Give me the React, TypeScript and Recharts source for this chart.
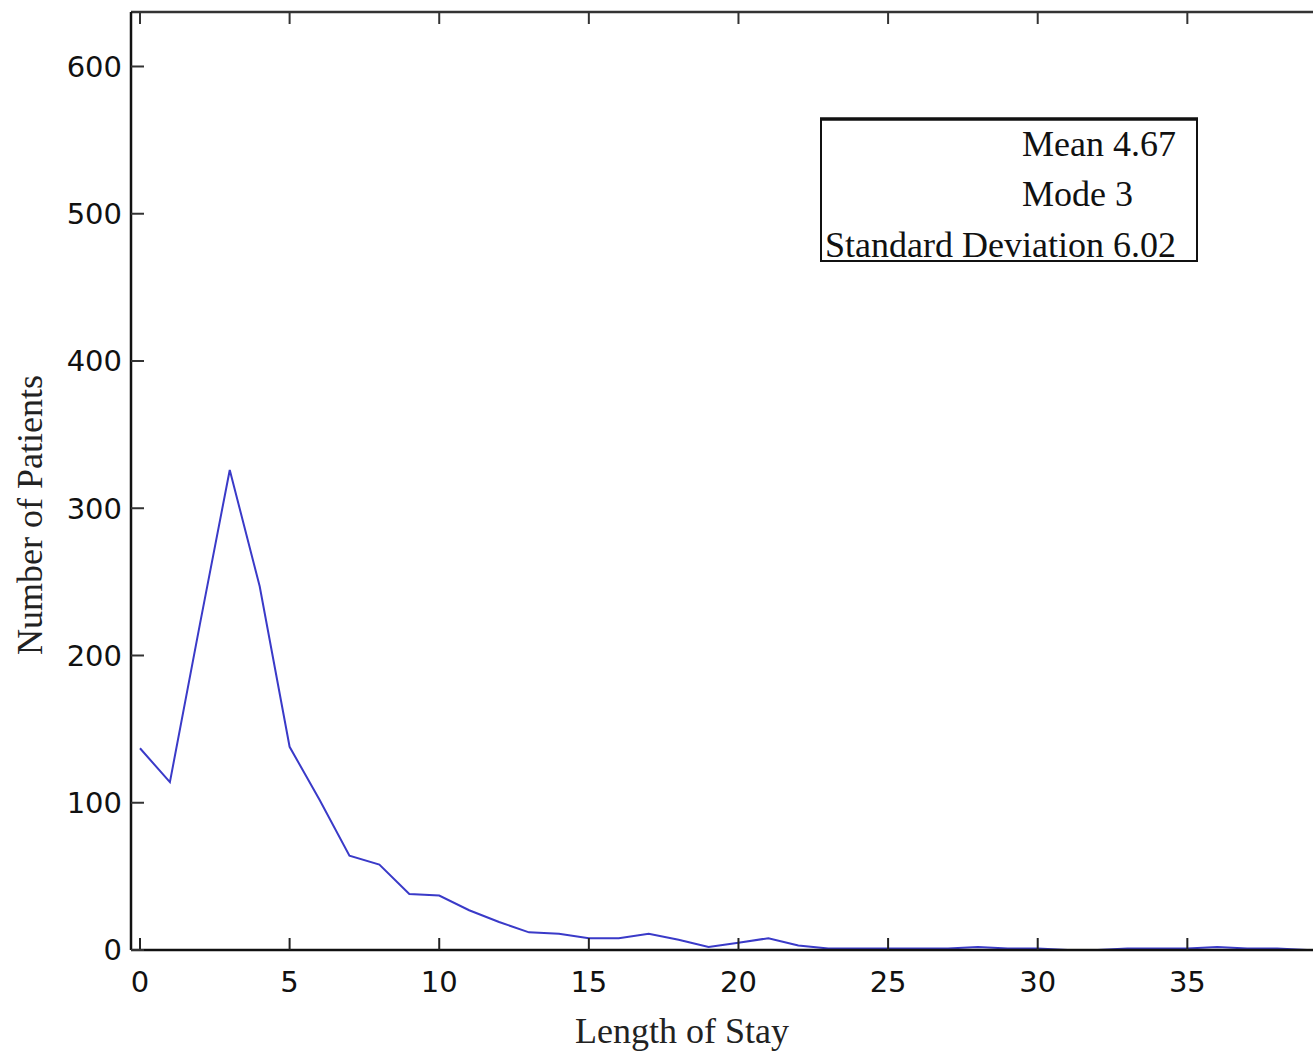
import React from 'react';
import { LineChart, Line, XAxis, YAxis } from 'recharts';

// length of stay (days) and number of patients
const days = [
  0, 1, 2, 3, 4, 5, 6, 7, 8, 9, 10, 11, 12, 13, 14, 15, 16, 17, 18, 19, 20,
  21, 22, 23, 24, 25, 26, 27, 28, 29, 30, 31, 32, 33, 34, 35, 36, 37, 38, 39, 40,
];
const patients = [
  137, 114, 221, 326, 247, 138, 102, 64, 58, 38, 37, 27, 19, 12, 11, 8, 8, 11, 7, 2, 5,
  8, 3, 1, 1, 1, 1, 1, 2, 1, 1, 0, 0, 1, 1, 1, 2, 1, 1, 0, 0,
];
const xTicks = [0, 5, 10, 15, 20, 25, 30, 35];
const yTicks = [0, 100, 200, 300, 400, 500, 600];
const stats = ['Mean 4.67', 'Mode 3', 'Standard Deviation 6.02'];

const data = days.map((d, i) => ({ day: d, count: patients[i] }));

const tickFont = { fill: '#111', fontSize: 29, fontFamily: 'DejaVu Sans' };
const serif = 'Liberation Serif, Times New Roman, serif';

const App: React.FC = () => {
  return (
    <div
      style={{
        position: 'absolute',
        left: 0,
        top: 0,
        width: 1313,
        height: 1055,
        overflow: 'hidden',
        background: '#fff',
      }}
    >
      <LineChart
        width={1400}
        height={1055}
        data={data}
        margin={{ top: 11, right: 77, bottom: 65, left: 61 }}
      >
        <XAxis
          dataKey="day"
          type="number"
          domain={[-0.3, 39.5]}
          ticks={xTicks}
          allowDataOverflow
          height={40}
          tick={tickFont}
          tickSize={-12}
          tickMargin={33}
          axisLine={{ stroke: '#111', strokeWidth: 2.5 }}
          tickLine={{ stroke: '#222', strokeWidth: 2 }}
        />
        <XAxis
          xAxisId="top"
          orientation="top"
          dataKey="day"
          type="number"
          domain={[-0.3, 39.5]}
          ticks={xTicks}
          allowDataOverflow
          height={1}
          tickFormatter={() => ''}
          tickSize={-12}
          axisLine={{ stroke: '#333', strokeWidth: 2.5 }}
          tickLine={{ stroke: '#333', strokeWidth: 2 }}
        />
        <YAxis
          type="number"
          domain={[0, 637]}
          ticks={yTicks}
          allowDataOverflow
          width={70}
          tick={tickFont}
          tickSize={-13}
          tickMargin={22}
          axisLine={{ stroke: '#111', strokeWidth: 2.5 }}
          tickLine={{ stroke: '#333', strokeWidth: 2 }}
        />
        <YAxis
          yAxisId="right"
          orientation="right"
          type="number"
          domain={[0, 637]}
          ticks={yTicks}
          width={1}
          tickFormatter={() => ''}
          tickSize={-16}
          axisLine={{ stroke: '#111', strokeWidth: 2.5 }}
          tickLine={{ stroke: '#999', strokeWidth: 1.5 }}
        />
        <Line
          type="linear"
          dataKey="count"
          stroke="#3a3ac8"
          strokeWidth={2}
          dot={false}
          isAnimationActive={false}
        />
      </LineChart>

      <svg
        width={1313}
        height={1055}
        style={{ position: 'absolute', left: 0, top: 0, pointerEvents: 'none' }}
      >
        <rect x={821} y={119} width={376} height={142} fill="#fff" stroke="#111" strokeWidth={2} />
        <line x1={820} x2={1198} y1={119} y2={119} stroke="#111" strokeWidth={3.5} />
        <text x={1022} y={156} fontFamily={serif} fontSize={36} fill="#111">{stats[0]}</text>
        <text x={1022} y={206} fontFamily={serif} fontSize={36} fill="#111">{stats[1]}</text>
        <text x={825} y={257} fontFamily={serif} fontSize={36} fill="#111">{stats[2]}</text>
        <text x={682} y={1043} textAnchor="middle" fontFamily={serif} fontSize={36} fill="#222">
          Length of Stay
        </text>
        <text
          x={42}
          y={515}
          textAnchor="middle"
          transform="rotate(-90 42 515)"
          fontFamily={serif}
          fontSize={36}
          fill="#222"
        >
          Number of Patients
        </text>
      </svg>
    </div>
  );
};

export default App;
